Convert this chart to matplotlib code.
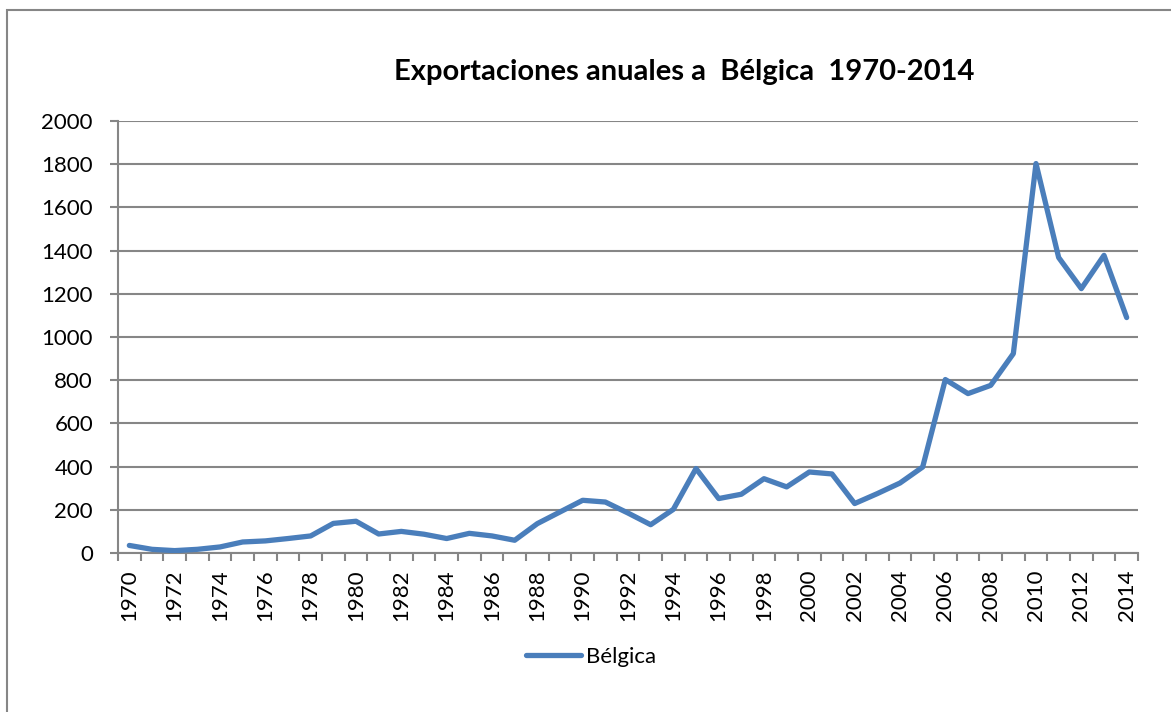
import matplotlib
matplotlib.use("Agg")
import matplotlib.pyplot as plt
import numpy as np

plt.rcParams['font.family'] = ['Lato', 'DejaVu Sans']

# exportaciones anuales a Bélgica
years = list(range(1970, 2015))
values = [35, 17, 11, 17, 28, 51, 56, 67, 79, 137,
          147, 88, 100, 87, 67, 91, 79, 59, 136, 190,
          244, 236, 185, 131, 202, 391, 252, 272, 344, 306,
          375, 366, 229, 275, 324, 398, 803, 738, 776, 923,
          1803, 1368, 1224, 1378, 1090]
yticks = list(range(0, 2001, 200))

grey = '#868686'
blue = '#4A7EBB'

fig = plt.figure(figsize=(11.71, 7.12), dpi=100)
ax = fig.add_axes([118 / 1171, 1 - 553 / 712, (1138 - 118) / 1171, (553 - 121) / 712])

x = np.arange(len(years))
ax.plot(x, values, color=blue, lw=3.8, solid_joinstyle='round', solid_capstyle='round',
        label='Bélgica', zorder=3)

ax.set_xlim(-0.5, len(years) - 0.5)
ax.set_ylim(0, 2000)
ax.set_yticks(yticks)
ax.set_yticklabels([str(v) for v in yticks], fontsize=16)
ax.yaxis.grid(True, color=grey, lw=1.5)
ax.set_axisbelow(True)

# tick marks between categories, labels centred on every other year
ax.set_xticks(np.arange(-0.5, len(years), 1.0))
ax.set_xticklabels([])
ax.set_xticks(x[::2], minor=True)
ax.set_xticklabels([str(y) for y in years[::2]], minor=True, rotation=90, fontsize=16)
ax.tick_params(axis='x', which='major', length=6, width=1.5, color=grey)
ax.tick_params(axis='x', which='minor', length=0, pad=12)
ax.tick_params(axis='y', length=6, width=1.5, color=grey, pad=12)

for s in ['top', 'right']:
    ax.spines[s].set_visible(False)
for s in ['left', 'bottom']:
    ax.spines[s].set_color(grey)
    ax.spines[s].set_linewidth(1.5)

fig.text(684 / 1171, 1 - 72 / 712, 'Exportaciones anuales a  Bélgica  1970-2014',
         ha='center', va='center', fontsize=21, fontweight='bold')

ax.legend(loc='center', bbox_to_anchor=(591 / 1171, 1 - 657 / 712),
          bbox_transform=fig.transFigure, frameon=False, fontsize=16,
          handlelength=2.5, handletextpad=0.2)

# chart border
fig.patches.append(plt.Rectangle((7 / 1171, -0.1), 1.2, 1 - 10 / 712 + 0.1,
                                 transform=fig.transFigure, fill=False,
                                 edgecolor=grey, lw=1.5))

fig.savefig('out.png', dpi=100)
